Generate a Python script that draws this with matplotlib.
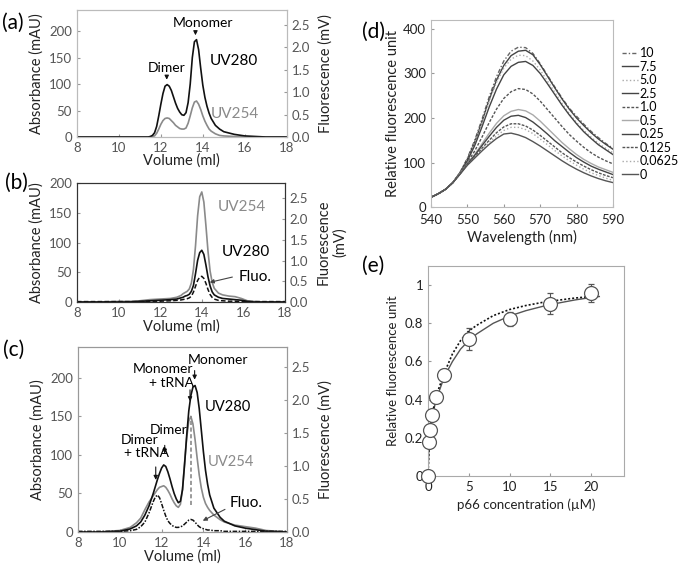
import numpy as np
import matplotlib.pyplot as plt

plt.rcParams['font.family'] = ['Lato', 'DejaVu Sans']

# ---- (a) size-exclusion profile, protein only ----
vol_a = [8, 9, 10, 11, 11.4, 11.5, 11.6, 11.7, 11.8, 11.9, 12.0, 12.1, 12.2, 12.3, 12.4,
         12.5, 12.6, 12.7, 12.8, 12.9, 13.0, 13.1, 13.2, 13.3, 13.4, 13.5, 13.6, 13.7, 13.8,
         13.9, 14.0, 14.1, 14.2, 14.3, 14.4, 14.6, 14.8, 15.0, 15.5, 16.0, 16.5, 17, 18]
uv280_a = [0, 0, 0, 0, 0, 1, 3, 8, 20, 40, 62, 82, 96, 99, 96,
           88, 76, 64, 54, 47, 42, 41, 46, 65, 100, 150, 180, 184, 165,
           130, 98, 75, 58, 45, 35, 22, 15, 10, 5, 2, 1, 0, 0]
uv254_a = [0, 0, 0, 0, 0, 0, 1, 2, 7, 15, 24, 31, 35, 36, 35,
           31, 27, 22, 19, 16, 15, 15, 17, 26, 40, 55, 66, 68, 62,
           52, 40, 30, 22, 15, 11, 6, 3, 2, 1, 0, 0, 0, 0]

# ---- (b) tRNA only ----
vol_b = [8, 9, 10, 10.5, 11, 11.5, 12, 12.5, 12.8, 13.0, 13.1, 13.2, 13.3, 13.4, 13.5,
         13.6, 13.7, 13.8, 13.9, 14.0, 14.1, 14.2, 14.3, 14.4, 14.5, 14.6, 14.8, 15.0,
         15.3, 15.6, 15.9, 16.2, 16.5, 17, 18]
uv254_b = [0, 0, 1, 1, 2, 4, 5, 6, 8, 11, 14, 16, 18, 22, 32,
           55, 95, 145, 177, 185, 168, 128, 85, 52, 33, 23, 15, 12,
           10, 9, 6, 2, 1, 0, 0]
uv280_b = [0, 0, 0, 0, 1, 2, 3, 4, 5, 7, 8, 10, 11, 13, 18,
           28, 48, 70, 83, 87, 80, 62, 42, 27, 17, 12, 8, 6,
           5, 4, 3, 1, 0, 0, 0]
fluo_b = [0.01, 0.01, 0.01, 0.01, 0.01, 0.02, 0.02, 0.03, 0.04, 0.05, 0.06, 0.07, 0.08, 0.10, 0.14,
          0.24, 0.38, 0.52, 0.60, 0.62, 0.57, 0.45, 0.30, 0.18, 0.11, 0.07, 0.04, 0.03,
          0.02, 0.02, 0.01, 0.01, 0.01, 0.01, 0.01]

# ---- (c) protein + tRNA ----
vol_c = [8, 9, 10, 10.5, 10.8, 11.0, 11.2, 11.4, 11.6, 11.7, 11.8, 11.9, 12.0, 12.1, 12.2,
         12.3, 12.4, 12.5, 12.6, 12.7, 12.8, 12.9, 13.0, 13.1, 13.2, 13.3, 13.4, 13.5, 13.6,
         13.7, 13.8, 13.9, 14.0, 14.1, 14.2, 14.3, 14.5, 14.8, 15.0, 15.5, 16.0, 16.5, 17.0, 18]
uv280_c = [0, 0, 1, 4, 8, 13, 22, 34, 50, 59, 68, 76, 83, 87, 85,
           78, 69, 59, 50, 43, 38, 40, 55, 88, 125, 157, 177, 188, 190,
           181, 160, 132, 104, 80, 62, 48, 31, 19, 14, 8, 5, 3, 1, 0]
uv254_c = [0, 0, 2, 6, 12, 18, 29, 39, 47, 51, 55, 58, 59, 60, 58,
           54, 49, 43, 38, 34, 32, 36, 55, 90, 122, 144, 150, 140, 120,
           96, 74, 57, 45, 37, 32, 28, 22, 16, 13, 9, 7, 5, 2, 0]
fluo_c = [0.01, 0.01, 0.01, 0.02, 0.04, 0.08, 0.15, 0.29, 0.46, 0.53, 0.56, 0.52, 0.43, 0.33, 0.24,
          0.17, 0.13, 0.10, 0.08, 0.07, 0.07, 0.08, 0.09, 0.12, 0.15, 0.18, 0.19, 0.18, 0.15,
          0.11, 0.08, 0.06, 0.05, 0.04, 0.03, 0.03, 0.02, 0.02, 0.01, 0.01, 0.01, 0.01, 0.01, 0.01]

# ---- (d) emission spectra ----
wl = [540, 542, 544, 546, 548, 550, 552, 554, 556, 558, 560, 562, 564, 566, 568,
      570, 572, 574, 576, 578, 580, 582, 584, 586, 588, 590]
conc_labels = ['10', '7.5', '5.0', '2.5', '1.0', '0.5', '0.25', '0.125', '0.0625', '0']
spec_10 = [22, 30, 40, 55, 78, 110, 150, 197, 248, 293, 328, 350, 359, 358, 345,
           322, 296, 270, 245, 222, 204, 186, 170, 156, 143, 132]
spec_7p5 = [22, 30, 40, 55, 78, 108, 146, 192, 242, 285, 318, 340, 350, 352, 342,
            320, 294, 268, 243, 220, 200, 183, 167, 153, 141, 130]
spec_5 = [22, 30, 40, 55, 78, 108, 146, 190, 238, 280, 312, 332, 341, 340, 328,
          308, 283, 258, 233, 210, 190, 172, 157, 143, 132, 122]
spec_2p5 = [22, 30, 40, 55, 77, 104, 138, 180, 225, 265, 297, 316, 325, 327, 318,
            300, 277, 253, 229, 207, 187, 169, 154, 140, 129, 118]
spec_1 = [22, 30, 40, 55, 76, 100, 126, 157, 190, 220, 244, 259, 266, 264, 254,
          238, 219, 200, 181, 163, 148, 134, 122, 112, 104, 97]
spec_0p5 = [22, 30, 40, 55, 76, 98, 118, 142, 166, 188, 205, 215, 219, 216, 207,
            193, 177, 161, 145, 131, 118, 107, 98, 90, 84, 78]
spec_0p25 = [22, 30, 40, 55, 75, 97, 116, 138, 159, 179, 195, 204, 206, 201, 191,
             178, 164, 149, 136, 123, 111, 101, 92, 85, 79, 73]
spec_0p125 = [22, 30, 40, 55, 75, 96, 113, 132, 150, 167, 180, 187, 187, 182, 173,
              161, 148, 135, 122, 111, 101, 92, 84, 77, 71, 66]
spec_0p0625 = [22, 30, 40, 55, 75, 95, 111, 128, 145, 160, 172, 179, 179, 174, 165,
               153, 140, 127, 115, 104, 94, 85, 77, 71, 65, 60]
spec_0 = [22, 30, 40, 55, 74, 94, 110, 126, 141, 154, 164, 166, 162, 156, 147,
          137, 126, 115, 104, 94, 85, 77, 70, 64, 59, 55]

# ---- (e) titration ----
p66 = [0, 0.125, 0.25, 0.5, 1, 2, 5, 10, 15, 20]
rel_fl = [0, 0.18, 0.24, 0.32, 0.415, 0.528, 0.718, 0.823, 0.903, 0.96]
rel_err = [0, 0.01, 0.015, 0.02, 0.02, 0.03, 0.057, 0.035, 0.057, 0.048]
fit_x = [0, 0.125, 0.25, 0.5, 1, 2, 3, 4, 5, 6, 8, 10, 12, 14, 16, 18, 20, 21]
fit_solid = [0, 0.17, 0.24, 0.31, 0.40, 0.52, 0.60, 0.665, 0.71, 0.745, 0.80, 0.838,
             0.866, 0.888, 0.906, 0.922, 0.935, 0.94]
fit_dotted = [0, 0.15, 0.24, 0.32, 0.42, 0.54, 0.64, 0.71, 0.76, 0.79, 0.84, 0.872,
              0.893, 0.909, 0.921, 0.932, 0.94, 0.945]

GRAY = '#8a8a8a'
TICK = '#555555'

fig = plt.figure(figsize=(6.81, 5.72), dpi=100)


def chrom_axes(rect, ymax, y2max, spine_col, y2label):
    ax = fig.add_axes(rect)
    ax.set_xlim(8, 18)
    ax.set_ylim(0, ymax)
    ax.set_xticks(range(8, 19, 2))
    ax.set_yticks(range(0, 201, 50))
    ax.set_xlabel('Volume (ml)', fontsize=10.5, color='#222', labelpad=0)
    ax.set_ylabel('Absorbance (mAU)', fontsize=10.5, color='#222', labelpad=4)
    ax.tick_params(labelsize=9.5, labelcolor=TICK, direction='in', length=2.5, color='#999')
    ax2 = ax.twinx()
    ax2.set_ylim(0, y2max)
    ax2.set_yticks(np.arange(0, 2.51, 0.5))
    ax2.set_yticklabels(['%.1f' % v for v in np.arange(0, 2.51, 0.5)])
    ax2.tick_params(labelsize=9.5, labelcolor=TICK, direction='in', length=2.5, color='#999')
    ax2.set_ylabel(y2label, fontsize=10.5, color='#222', labelpad=6)
    for a in (ax, ax2):
        for s in a.spines.values():
            s.set_color(spine_col)
    return ax, ax2


arrow = dict(arrowstyle='-|>', color='#111', lw=0.8, mutation_scale=6)
arrow_gray = dict(arrowstyle='-|>', color='#444', lw=0.8, mutation_scale=6)

# (a)
ax, ax2 = chrom_axes([0.113, 0.7605, 0.308, 0.222], 240, 2.83, '#bbbbbb', 'Fluorescence (mV)')
ax.plot(vol_a, uv254_a, color=GRAY, lw=1.2)
ax.plot(vol_a, uv280_a, color='#111', lw=1.2)
ax.annotate('', xy=(12.28, 103), xytext=(12.28, 121), arrowprops=arrow)
ax.text(12.28, 131, 'Dimer', ha='center', va='center', fontsize=10)
ax.annotate('', xy=(13.65, 187), xytext=(13.65, 205), arrowprops=arrow)
ax.text(14.0, 215, 'Monomer', ha='center', va='center', fontsize=10)
ax.text(14.35, 143, 'UV280', ha='left', va='center', fontsize=11)
ax.text(14.4, 43, 'UV254', ha='left', va='center', fontsize=11, color=GRAY)
fig.text(0.003, 0.978, '(a)', fontsize=15, va='top')

# (b)
ax, ax2 = chrom_axes([0.113, 0.472, 0.3055, 0.208], 200, 2.87, '#333333', 'Fluorescence\n(mV)')
ax.plot(vol_b, uv254_b, color=GRAY, lw=1.2)
ax.plot(vol_b, uv280_b, color='#111', lw=1.2)
ax2.plot(vol_b, fluo_b, color='#111', lw=1.1, ls=(0, (3, 1.5)))
ax.text(14.75, 160, 'UV254', ha='left', va='center', fontsize=11, color=GRAY)
ax.text(14.95, 84, 'UV280', ha='left', va='center', fontsize=11)
ax.text(15.75, 42, 'Fluo.', ha='left', va='center', fontsize=11)
ax.annotate('', xy=(14.25, 32), xytext=(15.6, 43), arrowprops=arrow_gray)
fig.text(0.008, 0.698, '(b)', fontsize=15, va='top')

# (c)
ax, ax2 = chrom_axes([0.1145, 0.0699, 0.307, 0.3235], 240, 2.8, '#999999', 'Fluorescence (mV)')
ax.plot(vol_c, uv254_c, color=GRAY, lw=1.2)
ax.plot(vol_c, uv280_c, color='#111', lw=1.2)
ax2.plot(vol_c, fluo_c, color='#111', lw=1.1, ls=(0, (3, 1, 1, 1)))
ax.plot([13.41, 13.41], [35, 150], color=GRAY, lw=1.2, ls=(0, (2.5, 1.5)))
ax.annotate('', xy=(13.58, 194), xytext=(13.58, 213), arrowprops=arrow)
ax.text(14.7, 223, 'Monomer', ha='center', va='center', fontsize=10)
ax.annotate('', xy=(13.36, 166), xytext=(13.36, 188), arrowprops=arrow)
ax.text(12.07, 212, 'Monomer', ha='center', va='center', fontsize=10)
ax.text(11.4, 193, '+ tRNA', ha='left', va='center', fontsize=10)
ax.annotate('', xy=(12.15, 98), xytext=(12.15, 116), arrowprops=arrow)
ax.text(12.35, 132, 'Dimer', ha='center', va='center', fontsize=10)
ax.annotate('', xy=(11.72, 64), xytext=(11.72, 88), arrowprops=arrow)
ax.text(10.95, 119, 'Dimer', ha='center', va='center', fontsize=10)
ax.text(10.2, 102, '+ tRNA', ha='left', va='center', fontsize=10)
ax.text(14.05, 162, 'UV280', ha='left', va='center', fontsize=10.5)
ax.text(14.2, 91, 'UV254', ha='left', va='center', fontsize=10.5, color=GRAY)
ax.text(15.25, 38, 'Fluo.', ha='left', va='center', fontsize=11)
ax.annotate('', xy=(13.85, 13), xytext=(15.15, 31), arrowprops=arrow_gray)
fig.text(0.005, 0.405, '(c)', fontsize=15, va='top')

# (d)
ax = fig.add_axes([0.633, 0.638, 0.267, 0.327])
spectra = [spec_10, spec_7p5, spec_5, spec_2p5, spec_1, spec_0p5, spec_0p25, spec_0p125, spec_0p0625, spec_0]
styles = [('#666', (0, (3, 1.5, 1, 1.5))), ('#444', '-'), ('#aaa', ':'), ('#444', '-'), ('#555', (0, (2, 1.2))),
          ('#aaa', '-'), ('#444', '-'), ('#555', (0, (2, 1))), ('#aaa', ':'), ('#555', '-')]
for y, lab, (c, ls) in zip(spectra, conc_labels, styles):
    ax.plot(wl, y, color=c, ls=ls, lw=1.0, label=lab)
ax.set_xlim(540, 590)
ax.set_ylim(0, 420)
ax.set_xticks(range(540, 591, 10))
ax.set_yticks(range(0, 401, 100))
ax.tick_params(labelsize=9.5, labelcolor='#222', direction='in', length=2.5, color='#999')
ax.tick_params(axis='x', pad=5)
ax.set_xlabel('Wavelength (nm)', fontsize=10.5, color='#222', labelpad=3)
ax.set_ylabel('Relative fluorescence unit', fontsize=10.5, color='#222', labelpad=2)
for s in ax.spines.values():
    s.set_color('#bbbbbb')
ax.legend(loc='upper left', bbox_to_anchor=(1.05, 0.855), frameon=False, fontsize=9,
          handlelength=1.3, handletextpad=0.1, labelspacing=0.12, borderaxespad=0,
          borderpad=0)
fig.text(0.531, 0.962, '(d)', fontsize=15, va='top')

# (e)
ax = fig.add_axes([0.6285, 0.1678, 0.2875, 0.3672])
ax.plot(fit_x, fit_solid, color='#555', lw=1.0)
ax.plot(fit_x, fit_dotted, color='#111', lw=1.2, ls=(0, (1.2, 1.2)))
ax.errorbar(p66, rel_fl, yerr=rel_err, fmt='o', mfc='white', mec='#555', mew=0.9, ms=10,
            ecolor='#555', elinewidth=0.8, capsize=2.5, zorder=3, clip_on=False)
ax.set_xlim(0, 24)
ax.set_ylim(0, 1.1)
ax.set_xticks([0, 5, 10, 15, 20])
ax.set_yticks([0, 0.2, 0.4, 0.6, 0.8, 1.0])
ax.set_yticklabels(['0', '0.2', '0.4', '0.6', '0.8', '1'])
ax.tick_params(labelsize=9.5, labelcolor='#222', direction='in', length=2.5, color='#999')
ax.set_xlabel('p66 concentration (\u00b5M)', fontsize=9.5, color='#222', labelpad=4)
ax.set_ylabel('Relative fluorescence unit', fontsize=9.5, color='#222', labelpad=4)
for s in ax.spines.values():
    s.set_color('#aaaaaa')
fig.text(0.531, 0.553, '(e)', fontsize=15, va='top')

plt.savefig('out.png', dpi=100)
